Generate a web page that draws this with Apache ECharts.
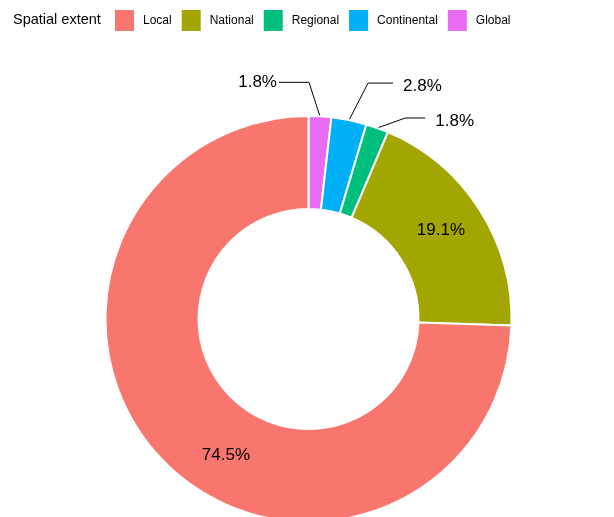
<!DOCTYPE html>
<html>
<head>
<meta charset="utf-8">
<script src="https://cdn.jsdelivr.net/npm/echarts@6/dist/echarts.min.js"></script>
<style>
html,body{margin:0;padding:0;background:#fff;}
#c{width:614px;height:517px;}
</style>
</head>
<body>
<div id="c"></div>
<script>
// Data (clockwise from 12 o'clock)
const categories = ['Global', 'Continental', 'Regional', 'National', 'Local'];
const values = [1.8, 2.8, 1.8, 19.1, 74.5];
const legendOrder = ['Local', 'National', 'Regional', 'Continental', 'Global'];
const legendTitle = 'Spatial extent';

// Styles
const colorMap = {
  Local: '#F8766D', National: '#A3A500', Regional: '#00BF7D',
  Continental: '#00B0F6', Global: '#E76BF3'
};
const CX = 308.5, CY = 319, R_IN = 110, R_OUT = 203;
const FONT = 'Liberation Sans, Arial, sans-serif';
// label line bends for outside labels: [bend dx, bend dy, horizontal length, text gap, text dy]
const outsideLayout = {
  Global: [-11, -34, -30, 2, 0],
  Continental: [19, -37, 25, 10, 3],
  Regional: [28, -10, 20, 10, 3]
};
const insideShift = { National: [-2, -3], Local: [32, 25] };

const total = values.reduce((a, b) => a + b, 0);
const cum = [];
values.reduce((acc, v, i) => { cum[i] = acc; return acc + v; }, 0);

const chart = echarts.init(document.getElementById('c'), null, { renderer: 'canvas' });
chart.setOption({
  backgroundColor: '#fff',
  animation: false,
  title: {
    text: legendTitle, left: 13, top: 12, padding: 0,
    textStyle: { fontFamily: FONT, fontSize: 14.5, fontWeight: 'normal', color: '#000' }
  },
  legend: {
    data: legendOrder, left: 115, top: 10, padding: 0,
    icon: 'rect', itemWidth: 19, itemHeight: 21, itemGap: 10,
    itemStyle: { borderWidth: 0 },
    textStyle: { fontFamily: FONT, fontSize: 12, color: '#000', padding: [0, 0, 0, 4] },
    selectedMode: false
  },
  series: [{
    type: 'pie',
    center: [CX, CY],
    radius: [R_IN, R_OUT],
    startAngle: 90,
    clockwise: true,
    avoidLabelOverlap: false,
    itemStyle: { borderColor: '#fff', borderWidth: 2 },
    emphasis: { disabled: true },
    label: {
      show: true, position: 'outside',
      fontFamily: FONT, fontSize: 17, color: '#000',
      formatter: p => p.value.toFixed(1) + '%'
    },
    labelLine: { show: true, length: 10, length2: 10, smooth: false, lineStyle: { color: '#000', width: 1 } },
    labelLayout: function (params) {
      const i = params.dataIndex;
      const name = categories[i];
      if (insideShift[name]) {
        return { dx: insideShift[name][0], dy: insideShift[name][1] };
      }
      const L = outsideLayout[name];
      const ang = (cum[i] + values[i] / 2) / total * 2 * Math.PI;
      const p0 = [CX + R_OUT * Math.sin(ang), CY - R_OUT * Math.cos(ang)];
      const p1 = [p0[0] + L[0], p0[1] + L[1]];
      const p2 = [p1[0] + L[2], p1[1]];
      const right = L[2] > 0;
      return {
        x: right ? p2[0] + L[3] : p2[0] - L[3],
        y: p2[1] + L[4],
        align: right ? 'left' : 'right',
        verticalAlign: 'middle',
        labelLinePoints: [p0, p1, p2]
      };
    },
    data: categories.map((c, i) => {
      const item = { name: c, value: values[i], itemStyle: { color: colorMap[c] } };
      if (insideShift[c]) {
        item.label = { position: 'inside' };
        item.labelLine = { show: false };
      }
      return item;
    })
  }]
});
</script>
</body>
</html>
